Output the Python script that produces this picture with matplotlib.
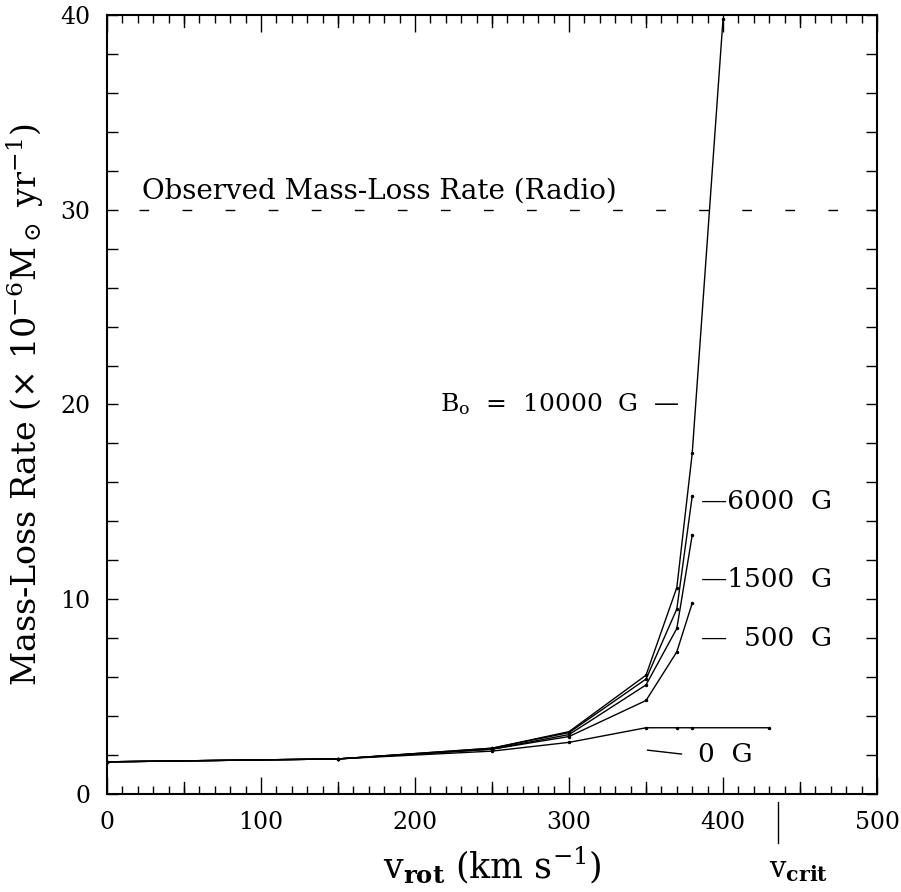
import numpy as np
import matplotlib.pyplot as plt
from matplotlib.ticker import MultipleLocator

plt.rcParams['font.family'] = 'DejaVu Serif'
plt.rcParams['mathtext.fontset'] = 'dejavuserif'

# rotation velocity (km/s) and mass-loss rate (1e-6 Msun/yr)
v_b = [0, 150, 250, 300, 350, 370, 380]
v_10000 = [0, 150, 250, 300, 350, 370, 380, 400]
v_0 = [0, 150, 250, 300, 350, 370, 380, 430]
m_10000 = [1.65, 1.8, 2.35, 3.2, 6.1, 10.6, 17.5, 39.8]
m_6000 = [1.65, 1.8, 2.35, 3.15, 5.9, 9.5, 15.3]
m_1500 = [1.65, 1.8, 2.3, 3.05, 5.6, 8.5, 13.3]
m_500 = [1.65, 1.8, 2.3, 2.95, 4.8, 7.3, 9.8]
m_0 = [1.65, 1.8, 2.2, 2.65, 3.4, 3.4, 3.4, 3.4]
observed = 30.0
v_crit = 436

fig = plt.figure(figsize=(9.01, 8.92), dpi=100)
ax = fig.add_axes([0.1188, 0.1099, 0.8546, 0.8733])

for xs, ys in [(v_10000, m_10000), (v_b, m_6000), (v_b, m_1500),
               (v_b, m_500), (v_0, m_0)]:
    ax.plot(xs, ys, color='black', lw=1.0, marker='.', markersize=3)

ax.plot([21, 500], [observed, observed], color='black', lw=1.0,
        dashes=(7, 24))
ax.text(23, observed + 0.25, 'Observed Mass-Loss Rate (Radio)',
        fontsize=20, va='bottom', ha='left')

ax.text(372, 20, r'B$_\mathrm{o}$  =  10000  G  —', fontsize=18,
        ha='right', va='center')
ax.text(386, 15.0, '—6000  G', fontsize=19, ha='left', va='center')
ax.text(386, 11.0, '—1500  G', fontsize=19, ha='left', va='center')
ax.text(386, 8.0, '—  500  G', fontsize=19, ha='left', va='center')
ax.plot([351, 373], [2.25, 2.05], color='black', lw=1.0)
ax.text(384, 2.05, '0  G', fontsize=19, ha='left', va='center')

ax.plot([v_crit, v_crit], [-0.4, -2.5], color='black', lw=1.0, clip_on=False)
ax.text(v_crit + 13, -3.9, r'v$_\mathbf{crit}$', fontsize=21,
        ha='center', va='center')

ax.set_xlim(0, 500)
ax.set_ylim(0, 40)
ax.xaxis.set_major_locator(MultipleLocator(100))
ax.xaxis.set_minor_locator(MultipleLocator(10))
ax.yaxis.set_major_locator(MultipleLocator(10))
ax.yaxis.set_minor_locator(MultipleLocator(2))

ax.tick_params(which='both', direction='in', top=True, right=True,
               labelsize=17, width=1.0)
ax.tick_params(axis='x', which='major', length=12, pad=12)
ax.tick_params(axis='x', which='minor', length=6)
ax.tick_params(axis='y', which='both', length=8, pad=12)
# longer ticks at the half-hundreds too
for xv in [50, 150, 250, 350, 450]:
    ax.plot([xv, xv], [0, 0.6], color='black', lw=1.0)
    ax.plot([xv, xv], [40, 39.4], color='black', lw=1.0)

for s in ax.spines.values():
    s.set_linewidth(1.5)

ax.set_xlabel(r'v$_\mathbf{rot}$ (km s$^{-1}$)', fontsize=25, labelpad=8)
ax.set_ylabel(r'Mass-Loss Rate ($\times$ 10$^{-6}$M$_\odot$ yr$^{-1}$)',
              fontsize=24, labelpad=10)

fig.savefig('out.png', dpi=100)
